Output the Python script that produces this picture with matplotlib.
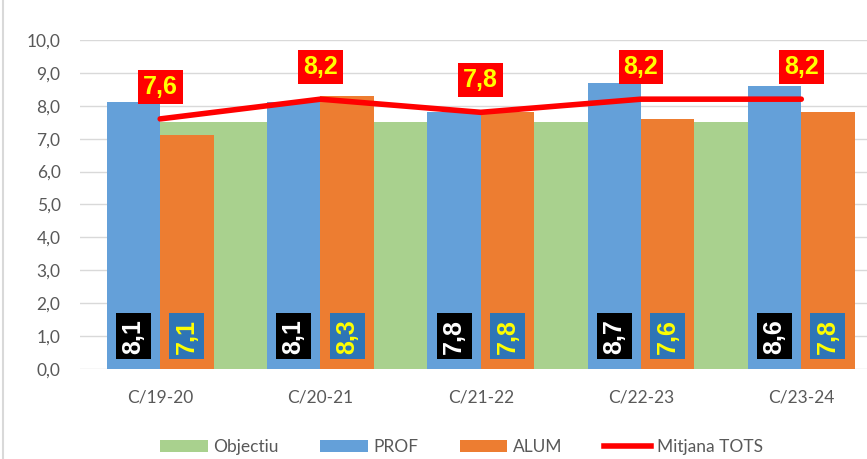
import numpy as np
import matplotlib
matplotlib.use("Agg")
import matplotlib.pyplot as plt
from matplotlib.patches import Patch
from matplotlib.lines import Line2D

cursos = ['C/19-20', 'C/20-21', 'C/21-22', 'C/22-23', 'C/23-24']
objectiu = [7.5, 7.5, 7.5, 7.5, np.nan]
prof = [8.1, 8.1, 7.8, 8.7, 8.6]
alum = [7.1, 8.3, 7.8, 7.6, 7.8]
mitjana = [7.6, 8.2, 7.8, 8.2, 8.2]

def fmt(v):
    return f'{v:.1f}'.replace('.', ',')

plt.rcParams['font.family'] = ['Lato', 'DejaVu Sans']

fig = plt.figure(figsize=(8.67, 4.59), dpi=100)
ax = fig.add_axes([0.0923, 0.196, 0.9077, 0.717])

x = np.arange(len(cursos))
w = 1 / 3

# green goal bars sit behind, from the blue/orange edge to next group's blue
ax.bar(x + w, objectiu, width=2 * w, color='#A9D18E', zorder=1)
ax.bar(x - w / 2, prof, width=w, color='#64A0D9', zorder=2)
ax.bar(x + w / 2, alum, width=w, color='#ED7D31', zorder=3)
ax.plot(x, mitjana, color='#FF0000', lw=4, solid_capstyle='round', zorder=4)

for i in range(len(cursos)):
    ax.text(x[i] - w / 2, 1.0, fmt(prof[i]), rotation=90, ha='center', va='center',
            color='white', fontsize=18, fontweight='bold', family='Liberation Sans',
            bbox=dict(facecolor='black', edgecolor='none', boxstyle='square,pad=0.22'), zorder=5)
    ax.text(x[i] + w / 2, 1.0, fmt(alum[i]), rotation=90, ha='center', va='center',
            color='#FFFF00', fontsize=18, fontweight='bold', family='Liberation Sans',
            bbox=dict(facecolor='#2E75B6', edgecolor='none', boxstyle='square,pad=0.22'), zorder=5)
    ax.annotate(fmt(mitjana[i]), (x[i], mitjana[i]), xytext=(0, 23), textcoords='offset points',
                ha='center', va='center', color='#FFFF00', fontsize=18, fontweight='bold',
                family='Liberation Sans',
                bbox=dict(facecolor='#FF0000', edgecolor='none', boxstyle='square,pad=0.2'), zorder=5)

ax.set_ylim(0, 10)
ax.set_xlim(-0.5, 4.41)
ax.set_yticks(np.arange(0, 11, 1))
ax.set_yticklabels([fmt(v) for v in np.arange(0, 11, 1)])
ax.set_xticks(x)
ax.set_xticklabels(cursos)
ax.tick_params(length=0, labelsize=12.5, colors='#595959')
ax.tick_params(axis='y', pad=14)
ax.tick_params(axis='x', pad=15)
ax.grid(axis='y', color='#D9D9D9', lw=1, zorder=0)
ax.set_axisbelow(True)
for s in ax.spines.values():
    s.set_visible(False)

fig.add_artist(Line2D([0.004, 0.004], [0.0, 1.0], color='#D9D9D9', lw=1.5))

handles = [Patch(facecolor='#A9D18E'), Patch(facecolor='#64A0D9'), Patch(facecolor='#ED7D31'),
           Line2D([], [], color='#FF0000', lw=4)]
labels = ['Objectiu', 'PROF', 'ALUM', 'Mitjana TOTS']
leg = fig.legend(handles, labels, loc='center', bbox_to_anchor=(0.532, 0.026), ncol=4, frameon=False,
                 fontsize=12.5, handlelength=2.75, handleheight=0.7, columnspacing=2.4, handletextpad=0.3,
                 labelcolor='#595959')

plt.savefig('out.png', dpi=100)
